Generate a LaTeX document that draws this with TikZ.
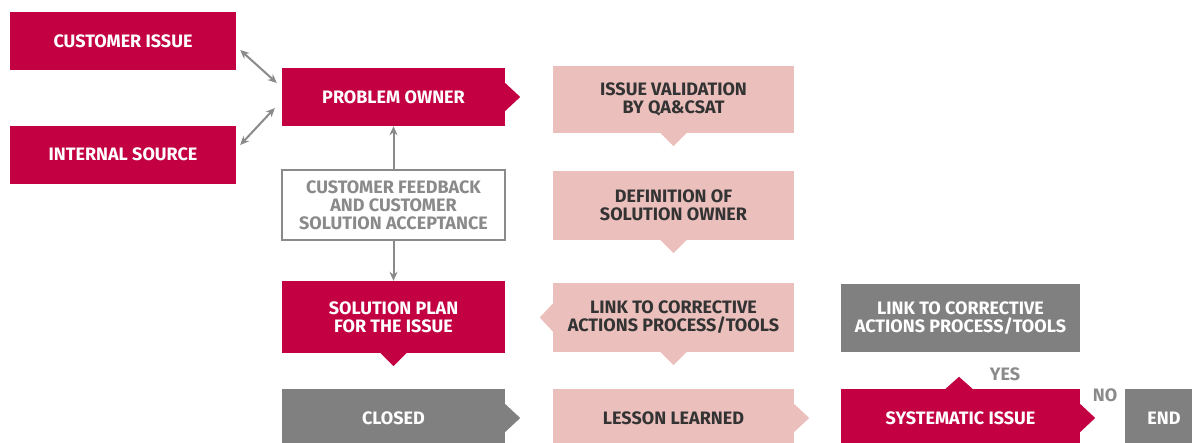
\documentclass[tikz,border=0pt]{standalone}
\usepackage{fontspec}
\setmainfont{Fira Sans}
\usepackage{tikz}
\usetikzlibrary{arrows.meta, calc}

\definecolor{crimson}{HTML}{C20042}
\definecolor{rose}{HTML}{EBC0BC}
\definecolor{stone}{HTML}{808080}
\definecolor{ink}{HTML}{333333}
\definecolor{wire}{HTML}{8A8A8A}

\begin{document}
\begin{tikzpicture}[x=1pt, y=-1pt,
    box/.style={inner sep=0pt, align=center, font=\fontsize{18}{18}\selectfont\bfseries},
    redbox/.style={box, fill=crimson, text=white},
    pinkbox/.style={box, fill=rose, text=ink},
    greybox/.style={box, fill=stone, text=white},
    openbox/.style={box, draw=wire, line width=2pt, fill=white, text=wire},
    tag/.style={font=\fontsize{18}{18}\selectfont\bfseries, text=wire, inner sep=0pt},
    link/.style={draw=wire, line width=2pt},
    >={Stealth[length=9pt, width=8pt]}]

    % Cadre
    \useasboundingbox (0,0) rectangle (1192,442);
    \clip (0,0) rectangle (1192,442);

    % Sources
    \node[redbox, minimum width=226pt, minimum height=58pt] (ci) at (123,41) {CUSTOMER ISSUE};
    \node[redbox, minimum width=226pt, minimum height=58pt] (is) at (123,154.5) {INTERNAL SOURCE};

    % Colonne gauche
    \node[redbox, minimum width=223pt, minimum height=58pt] (po) at (393.5,97) {PROBLEM OWNER};
    \node[openbox, minimum width=223pt, minimum height=70pt] (fb) at (393.5,205)
        {CUSTOMER FEEDBACK\\AND CUSTOMER\\SOLUTION ACCEPTANCE};
    \node[redbox, minimum width=223pt, minimum height=72pt] (sp) at (393.5,317) {SOLUTION PLAN\\FOR THE ISSUE};
    \node[greybox, minimum width=223pt, minimum height=58pt] (cl) at (393.5,418) {CLOSED};

    % Colonne centrale
    \node[pinkbox, minimum width=241pt, minimum height=67pt] (iv) at (673.5,99.5) {ISSUE VALIDATION\\BY QA\&CSAT};
    \node[pinkbox, minimum width=241pt, minimum height=69pt] (def) at (673.5,205.5) {DEFINITION OF\\SOLUTION OWNER};
    \node[pinkbox, minimum width=241pt, minimum height=69pt] (lk) at (673.5,317.5)
        {LINK TO CORRECTIVE\\ACTIONS PROCESS/TOOLS};
    \node[pinkbox, minimum width=241pt, minimum height=58pt] (ll) at (673.5,418) {LESSON LEARNED};

    % Colonne droite
    \node[greybox, minimum width=239pt, minimum height=68pt] (ca) at (960.5,318)
        {LINK TO CORRECTIVE\\ACTIONS PROCESS/TOOLS};
    \node[redbox, minimum width=239pt, minimum height=58pt] (sy) at (960.5,418) {SYSTEMATIC ISSUE};
    \node[greybox, minimum width=78pt, minimum height=58pt] (en) at (1164,418) {END};
    \node[tag] (yes) at (1005,374) {YES};
    \node[tag] (no) at (1105,395) {NO};

    % Pointes
    \foreach \n/\c in {po/crimson, cl/stone, ll/rose, sy/crimson} {
        \fill[\c] ([yshift=14pt]\n.east) -- ([xshift=15pt]\n.east) -- ([yshift=-14pt]\n.east) -- cycle;
    }
    \foreach \n/\c in {iv/rose, def/rose, lk/rose, sp/crimson} {
        \fill[\c] ([xshift=-13pt]\n.south) -- ([yshift=-13pt]\n.south) -- ([xshift=13pt]\n.south) -- cycle;
    }
    \fill[rose] ([yshift=14pt]lk.west) -- ([xshift=-13pt]lk.west) -- ([yshift=-14pt]lk.west) -- cycle;
    \fill[crimson] ([xshift=-15pt]sy.north) -- ([xshift=-1.5pt,yshift=12pt]sy.north) -- ([xshift=12pt]sy.north) -- cycle;

    % Fleches
    \draw[link, <->] ([xshift=4pt,yshift=-9pt]ci.east) -- ([xshift=-5pt,yshift=14pt]po.west);
    \draw[link, <->] ([xshift=4pt,yshift=9.5pt]is.east) -- ([xshift=-7pt,yshift=-11pt]po.west);
    \draw[link, ->] (fb) -- (po);
    \draw[link, ->] (fb) -- (sp);

\end{tikzpicture}
\end{document}
